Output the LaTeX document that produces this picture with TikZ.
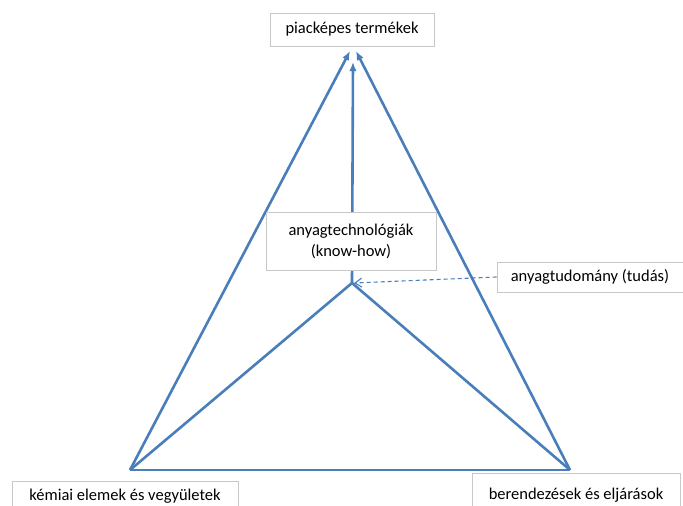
\documentclass[tikz,border=0pt]{standalone}
\usepackage{fontspec}
\setmainfont{Carlito}
\usetikzlibrary{arrows.meta}
\definecolor{edgeblue}{RGB}{74,126,187}
\definecolor{boxgray}{RGB}{200,200,200}

\begin{document}
\begin{tikzpicture}[x=1pt, y=-1pt,
	every node/.style={font=\fontsize{16.5}{21}\selectfont},
	labelbox/.style={draw=boxgray, fill=white, line width=0.8pt, align=center, inner sep=0pt},
	edge/.style={draw=edgeblue, line width=2.6pt},
	>={Latex[length=3.2mm, width=2.6mm]}]
	\useasboundingbox (0,0) rectangle (683,506);
	% corners of the triangle
	\coordinate (chem) at (130,470);
	\coordinate (equip) at (570,470);
	\coordinate (core) at (352,283);
	\coordinate (tipL) at (350,51);
	\coordinate (tipR) at (356,51);
	\coordinate (tipM) at (353,62);
	% triangle and inner edges
	\draw[edge, ->] (chem) -- (tipL);
	\draw[edge, ->] (equip) -- (tipR);
	\draw[edge, line join=round] (chem) -- (equip);
	\draw[edge, line join=round] (chem) -- (core) -- (equip);
	\draw[edge, ->] (core) -- (tipM);
	% labels
	\node[labelbox, minimum width=164pt, minimum height=33pt] (market) at (352,29.5) {piacképes termékek};
	\node[labelbox, minimum width=170pt, minimum height=58pt] (tech) at (351,241) {anyagtechnológiák\\(know-how)};
	\node[labelbox, minimum width=186pt, minimum height=30pt] (science) at (590,277) {anyagtudomány (tudás)};
	\node[labelbox, anchor=north, minimum width=226pt, inner ysep=7pt, text height=12pt, text depth=25pt] (elements) at (125,481) {kémiai elemek és vegyületek};
	\node[labelbox, anchor=north, minimum width=208pt, inner ysep=14pt, text height=12pt, text depth=25pt] (process) at (576,473) {berendezések és eljárások};
	\draw[edgeblue, line width=1.1pt, dash pattern=on 4pt off 3pt, ->, >={Straight Barb[length=2.4mm, width=3.2mm]}] (science.west) -- ([xshift=2pt]core);
\end{tikzpicture}
\end{document}
